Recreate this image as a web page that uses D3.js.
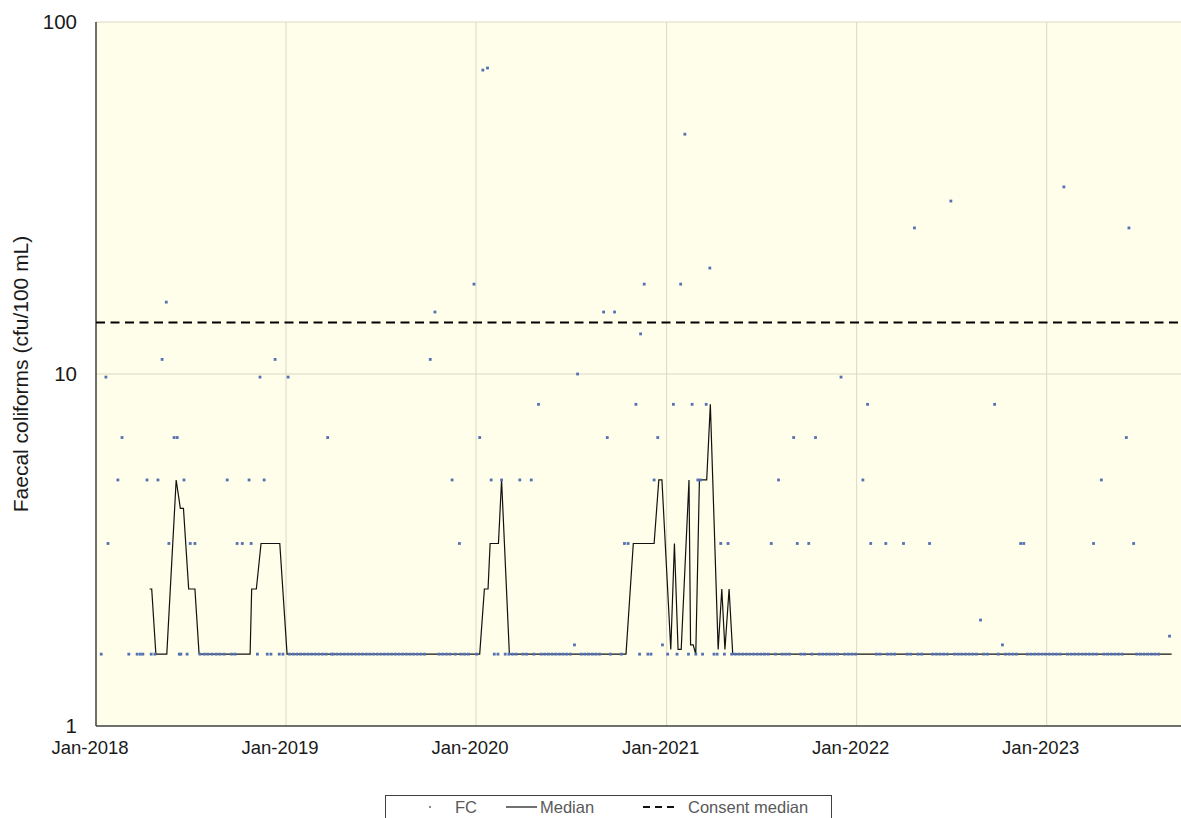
<!DOCTYPE html>
<html lang="en">
<head>
    <meta charset="UTF-8">
    <title>Faecal coliforms</title>
    <style>
        body {
            margin: 0;
            padding: 0;
            background-color: #ffffff;
            font-family: 'Liberation Sans', Arial, sans-serif;
            overflow: hidden;
        }
        .tick-label { fill: #1a1a1a; }
        .legend-text { fill: #595959; font-size: 16.5px; }
    </style>
</head>
<body>
    <div id="chart"></div>

    <script src="https://d3js.org/d3.v7.min.js"></script>
    <script>
        const width = 1181;
        const height = 818;
        const margin = { top: 22, right: 0, bottom: 92, left: 96 };

        // FC samples above the reporting limit: [date, cfu/100 mL]
        const fcPoints = [
            ["2018-01-20", 9.8], ["2018-01-24", 3.3], ["2018-02-12", 5], ["2018-02-20", 6.6],
            ["2018-04-09", 5], ["2018-04-30", 5], ["2018-05-08", 11], ["2018-05-16", 16],
            ["2018-05-21", 3.3], ["2018-05-31", 6.6], ["2018-06-06", 6.6], ["2018-06-19", 5],
            ["2018-07-01", 3.3], ["2018-07-10", 3.3], ["2018-09-10", 5], ["2018-09-29", 3.3],
            ["2018-10-09", 3.3], ["2018-10-22", 5], ["2018-10-26", 3.3], ["2018-11-12", 9.8],
            ["2018-11-20", 5], ["2018-12-11", 11],
            ["2019-01-05", 9.8], ["2019-03-22", 6.6], ["2019-10-05", 11], ["2019-10-14", 15],
            ["2019-11-16", 5], ["2019-11-30", 3.3], ["2019-12-28", 18],
            ["2020-01-08", 6.6], ["2020-01-14", 73], ["2020-01-23", 74], ["2020-01-30", 5],
            ["2020-02-19", 5], ["2020-03-25", 5], ["2020-04-16", 5], ["2020-04-30", 8.2],
            ["2020-07-08", 1.7], ["2020-07-14", 10], ["2020-09-02", 15], ["2020-09-09", 6.6],
            ["2020-09-23", 15], ["2020-10-12", 3.3], ["2020-10-19", 3.3], ["2020-11-03", 8.2],
            ["2020-11-12", 13], ["2020-11-19", 18], ["2020-12-08", 5], ["2020-12-15", 6.6],
            ["2020-12-24", 1.7],
            ["2021-01-14", 8.2], ["2021-01-28", 18], ["2021-02-05", 48], ["2021-02-19", 8.2],
            ["2021-03-02", 5], ["2021-03-07", 5], ["2021-03-18", 8.2], ["2021-03-25", 20],
            ["2021-04-15", 3.3], ["2021-04-29", 3.3], ["2021-07-21", 3.3], ["2021-08-04", 5],
            ["2021-09-02", 6.6], ["2021-09-09", 3.3], ["2021-10-01", 3.3], ["2021-10-14", 6.6],
            ["2021-12-02", 9.8],
            ["2022-01-13", 5], ["2022-01-22", 8.2], ["2022-01-28", 3.3], ["2022-02-26", 3.3],
            ["2022-04-01", 3.3], ["2022-04-22", 26], ["2022-05-21", 3.3], ["2022-07-01", 31],
            ["2022-08-27", 2.0], ["2022-09-23", 8.2], ["2022-10-08", 1.7], ["2022-11-12", 3.3],
            ["2022-11-18", 3.3],
            ["2023-02-03", 34], ["2023-04-01", 3.3], ["2023-04-16", 5], ["2023-06-03", 6.6],
            ["2023-06-08", 26], ["2023-06-17", 3.3], ["2023-08-25", 1.8]
        ];

        // FC samples at the reporting limit
        const lowValue = 1.6;
        const lowDates = [
            "2018-01-11", "2018-03-05", "2018-03-21", "2018-03-27", "2018-04-01", "2018-04-17",
            "2018-04-24", "2018-06-10", "2018-06-13", "2018-06-25", "2018-07-20", "2018-07-28",
            "2018-08-04", "2018-08-12", "2018-08-20", "2018-08-27", "2018-09-04", "2018-09-18",
            "2018-09-25", "2018-11-07", "2018-11-26", "2018-12-03", "2018-12-19", "2018-12-26",
            "2019-01-08", "2019-01-15", "2019-01-22", "2019-01-29", "2019-02-05", "2019-02-12",
            "2019-02-19", "2019-02-26", "2019-03-05", "2019-03-12", "2019-03-19", "2019-03-29",
            "2019-04-02", "2019-04-09", "2019-04-16", "2019-04-23", "2019-04-30", "2019-05-07",
            "2019-05-14", "2019-05-21", "2019-05-28", "2019-06-04", "2019-06-11", "2019-06-18",
            "2019-06-25", "2019-07-02", "2019-07-09", "2019-07-16", "2019-07-23", "2019-07-30",
            "2019-08-06", "2019-08-13", "2019-08-20", "2019-08-27", "2019-09-03", "2019-09-10",
            "2019-09-17", "2019-09-24", "2019-10-22", "2019-10-29", "2019-11-05", "2019-11-12",
            "2019-11-22", "2019-12-03", "2019-12-10", "2019-12-17",
            "2020-01-02", "2020-02-05", "2020-02-12", "2020-02-26", "2020-03-04", "2020-03-11",
            "2020-03-18", "2020-03-31", "2020-04-07", "2020-04-21", "2020-05-05", "2020-05-12",
            "2020-05-19", "2020-05-26", "2020-06-02", "2020-06-09", "2020-06-16", "2020-06-23",
            "2020-06-30", "2020-07-21", "2020-07-28", "2020-08-04", "2020-08-11", "2020-08-18",
            "2020-08-25", "2020-09-15", "2020-10-06", "2020-11-10", "2020-11-26", "2020-12-02",
            "2021-01-03", "2021-01-21", "2021-02-12", "2021-02-26", "2021-03-11", "2021-04-02",
            "2021-04-08", "2021-04-22", "2021-05-06", "2021-05-13", "2021-05-20", "2021-05-27",
            "2021-06-03", "2021-06-10", "2021-06-17", "2021-06-24", "2021-07-01", "2021-07-08",
            "2021-07-15", "2021-07-29", "2021-08-11", "2021-08-18", "2021-08-25", "2021-09-16",
            "2021-09-23", "2021-10-07", "2021-10-21", "2021-10-28", "2021-11-04", "2021-11-11",
            "2021-11-18", "2021-11-25", "2021-12-09", "2021-12-16", "2021-12-23", "2021-12-30",
            "2022-02-08", "2022-02-15", "2022-03-01", "2022-03-08", "2022-03-15", "2022-04-08",
            "2022-04-15", "2022-04-29", "2022-05-06", "2022-05-27", "2022-06-03", "2022-06-10",
            "2022-06-17", "2022-06-24", "2022-07-08", "2022-07-15", "2022-07-22", "2022-07-29",
            "2022-08-05", "2022-08-12", "2022-08-19", "2022-09-02", "2022-09-09", "2022-09-30",
            "2022-10-14", "2022-10-21", "2022-10-28", "2022-11-04", "2022-11-25", "2022-12-02",
            "2022-12-09", "2022-12-16", "2022-12-23", "2022-12-30",
            "2023-01-06", "2023-01-13", "2023-01-20", "2023-01-27", "2023-02-10", "2023-02-17",
            "2023-02-24", "2023-03-03", "2023-03-10", "2023-03-17", "2023-03-24", "2023-03-31",
            "2023-04-07", "2023-04-21", "2023-04-28", "2023-05-05", "2023-05-12", "2023-05-19",
            "2023-05-26", "2023-06-23", "2023-06-30", "2023-07-07", "2023-07-14", "2023-07-21",
            "2023-07-28", "2023-08-04"
        ];

        // running median, read at its corners
        const medianPoints = [
            ["2018-04-14", 2.45], ["2018-04-18", 2.45], ["2018-04-26", 1.6], ["2018-05-17", 1.6],
            ["2018-06-04", 5], ["2018-06-12", 4.15], ["2018-06-18", 4.15], ["2018-06-28", 2.45],
            ["2018-07-10", 2.45], ["2018-07-18", 1.6], ["2018-10-24", 1.6], ["2018-10-27", 2.45],
            ["2018-11-05", 2.45], ["2018-11-14", 3.3], ["2018-12-20", 3.3], ["2019-01-03", 1.6],
            ["2020-01-08", 1.6], ["2020-01-17", 2.45], ["2020-01-24", 2.45], ["2020-01-28", 3.3],
            ["2020-02-13", 3.3], ["2020-02-19", 5], ["2020-03-05", 1.6], ["2020-10-15", 1.6],
            ["2020-10-29", 3.3], ["2020-12-08", 3.3], ["2020-12-17", 5], ["2020-12-23", 5],
            ["2021-01-09", 1.65], ["2021-01-16", 3.3], ["2021-01-23", 1.65], ["2021-01-29", 1.65],
            ["2021-02-13", 5], ["2021-02-16", 1.7], ["2021-02-21", 1.7], ["2021-02-26", 1.6],
            ["2021-03-05", 5], ["2021-03-19", 5], ["2021-03-26", 8.2], ["2021-04-10", 1.65],
            ["2021-04-17", 2.45], ["2021-04-23", 1.65], ["2021-05-01", 2.45], ["2021-05-08", 1.6],
            ["2023-08-29", 1.6]
        ];

        const consentMedian = 14;
        const yTicks = [1, 10, 100];
        const xTicks = ["2018-01-01", "2019-01-01", "2020-01-01", "2021-01-01", "2022-01-01", "2023-01-01"];
        const xDomain = ["2018-01-01", "2023-09-16"];

        const parse = d3.timeParse("%Y-%m-%d");
        const fmt = d3.timeFormat("%b-%Y");

        const svg = d3.select('#chart')
            .append('svg')
            .attr('width', width)
            .attr('height', height);

        const x = d3.scaleTime()
            .domain(xDomain.map(parse))
            .range([margin.left, width - margin.right]);

        const y = d3.scaleLog()
            .domain([1, 100])
            .range([height - margin.bottom, margin.top]);

        // plot area
        svg.append('rect')
            .attr('x', margin.left)
            .attr('y', margin.top)
            .attr('width', width - margin.left - margin.right)
            .attr('height', height - margin.top - margin.bottom)
            .attr('fill', '#fefeea');

        // gridlines
        svg.append('g')
            .selectAll('line')
            .data(xTicks.slice(1).map(parse))
            .enter().append('line')
            .attr('x1', d => x(d)).attr('x2', d => x(d))
            .attr('y1', margin.top).attr('y2', height - margin.bottom)
            .attr('stroke', '#d9d9c6')
            .attr('stroke-width', 1);

        svg.append('g')
            .selectAll('line')
            .data(yTicks)
            .enter().append('line')
            .attr('x1', margin.left).attr('x2', width - margin.right)
            .attr('y1', d => y(d)).attr('y2', d => y(d))
            .attr('stroke', d => d === 1 ? 'none' : '#d9d9c6')
            .attr('stroke-width', 1);

        // axes lines
        svg.append('line')
            .attr('x1', margin.left).attr('x2', margin.left)
            .attr('y1', margin.top).attr('y2', height - margin.bottom)
            .attr('stroke', '#404040').attr('stroke-width', 1.5);
        svg.append('line')
            .attr('x1', margin.left).attr('x2', width - margin.right)
            .attr('y1', height - margin.bottom).attr('y2', height - margin.bottom)
            .attr('stroke', '#404040').attr('stroke-width', 1.5);

        // tick labels
        svg.append('g')
            .selectAll('text')
            .data(yTicks)
            .enter().append('text')
            .attr('class', 'tick-label')
            .attr('x', margin.left - 19)
            .attr('y', d => y(d))
            .attr('dy', '0.35em')
            .attr('text-anchor', 'end')
            .style('font-size', '20.5px')
            .text(d => d);

        svg.append('g')
            .selectAll('text')
            .data(xTicks.map(parse))
            .enter().append('text')
            .attr('class', 'tick-label')
            .attr('x', d => x(d) - 6)
            .attr('y', height - margin.bottom + 22)
            .attr('dy', '0.35em')
            .attr('text-anchor', 'middle')
            .style('font-size', '18.5px')
            .text(d => fmt(d));

        svg.append('text')
            .attr('class', 'tick-label')
            .attr('transform', `translate(28,${(margin.top + height - margin.bottom) / 2}) rotate(-90)`)
            .attr('text-anchor', 'middle')
            .style('font-size', '21px')
            .text('Faecal coliforms (cfu/100 mL)');

        // consent median
        svg.append('line')
            .attr('x1', margin.left).attr('x2', width - margin.right)
            .attr('y1', y(consentMedian)).attr('y2', y(consentMedian))
            .attr('stroke', '#000')
            .attr('stroke-width', 2)
            .attr('stroke-dasharray', '9,5.5');

        // median line
        const line = d3.line()
            .x(d => x(parse(d[0])))
            .y(d => y(d[1]));

        svg.append('path')
            .datum(medianPoints)
            .attr('d', line)
            .attr('fill', 'none')
            .attr('stroke', '#111')
            .attr('stroke-width', 1.2);

        // FC points
        const allPoints = lowDates.map(d => [d, lowValue]).concat(fcPoints);
        const ps = 2.8;
        svg.append('g')
            .selectAll('rect')
            .data(allPoints)
            .enter().append('rect')
            .attr('x', d => x(parse(d[0])) - ps / 2)
            .attr('y', d => y(d[1]) - ps / 2)
            .attr('width', ps)
            .attr('height', ps)
            .attr('fill', '#5570b3');

        // legend
        const lg = svg.append('g');
        lg.append('rect')
            .attr('x', 385.5).attr('y', 795.5)
            .attr('width', 446).attr('height', 30)
            .attr('fill', '#fff')
            .attr('stroke', '#404040');
        lg.append('rect')
            .attr('x', 429).attr('y', 806)
            .attr('width', 2).attr('height', 2)
            .attr('fill', '#8a8a8a');
        lg.append('text').attr('class', 'legend-text')
            .attr('x', 455).attr('y', 813).text('FC');
        lg.append('line')
            .attr('x1', 506).attr('x2', 537).attr('y1', 807).attr('y2', 807)
            .attr('stroke', '#111').attr('stroke-width', 1.2);
        lg.append('text').attr('class', 'legend-text')
            .attr('x', 540).attr('y', 813).text('Median');
        lg.append('line')
            .attr('x1', 643).attr('x2', 677).attr('y1', 807).attr('y2', 807)
            .attr('stroke', '#111').attr('stroke-width', 2)
            .attr('stroke-dasharray', '7,5');
        lg.append('text').attr('class', 'legend-text')
            .attr('x', 688).attr('y', 813).text('Consent median');
    </script>
</body>
</html>
